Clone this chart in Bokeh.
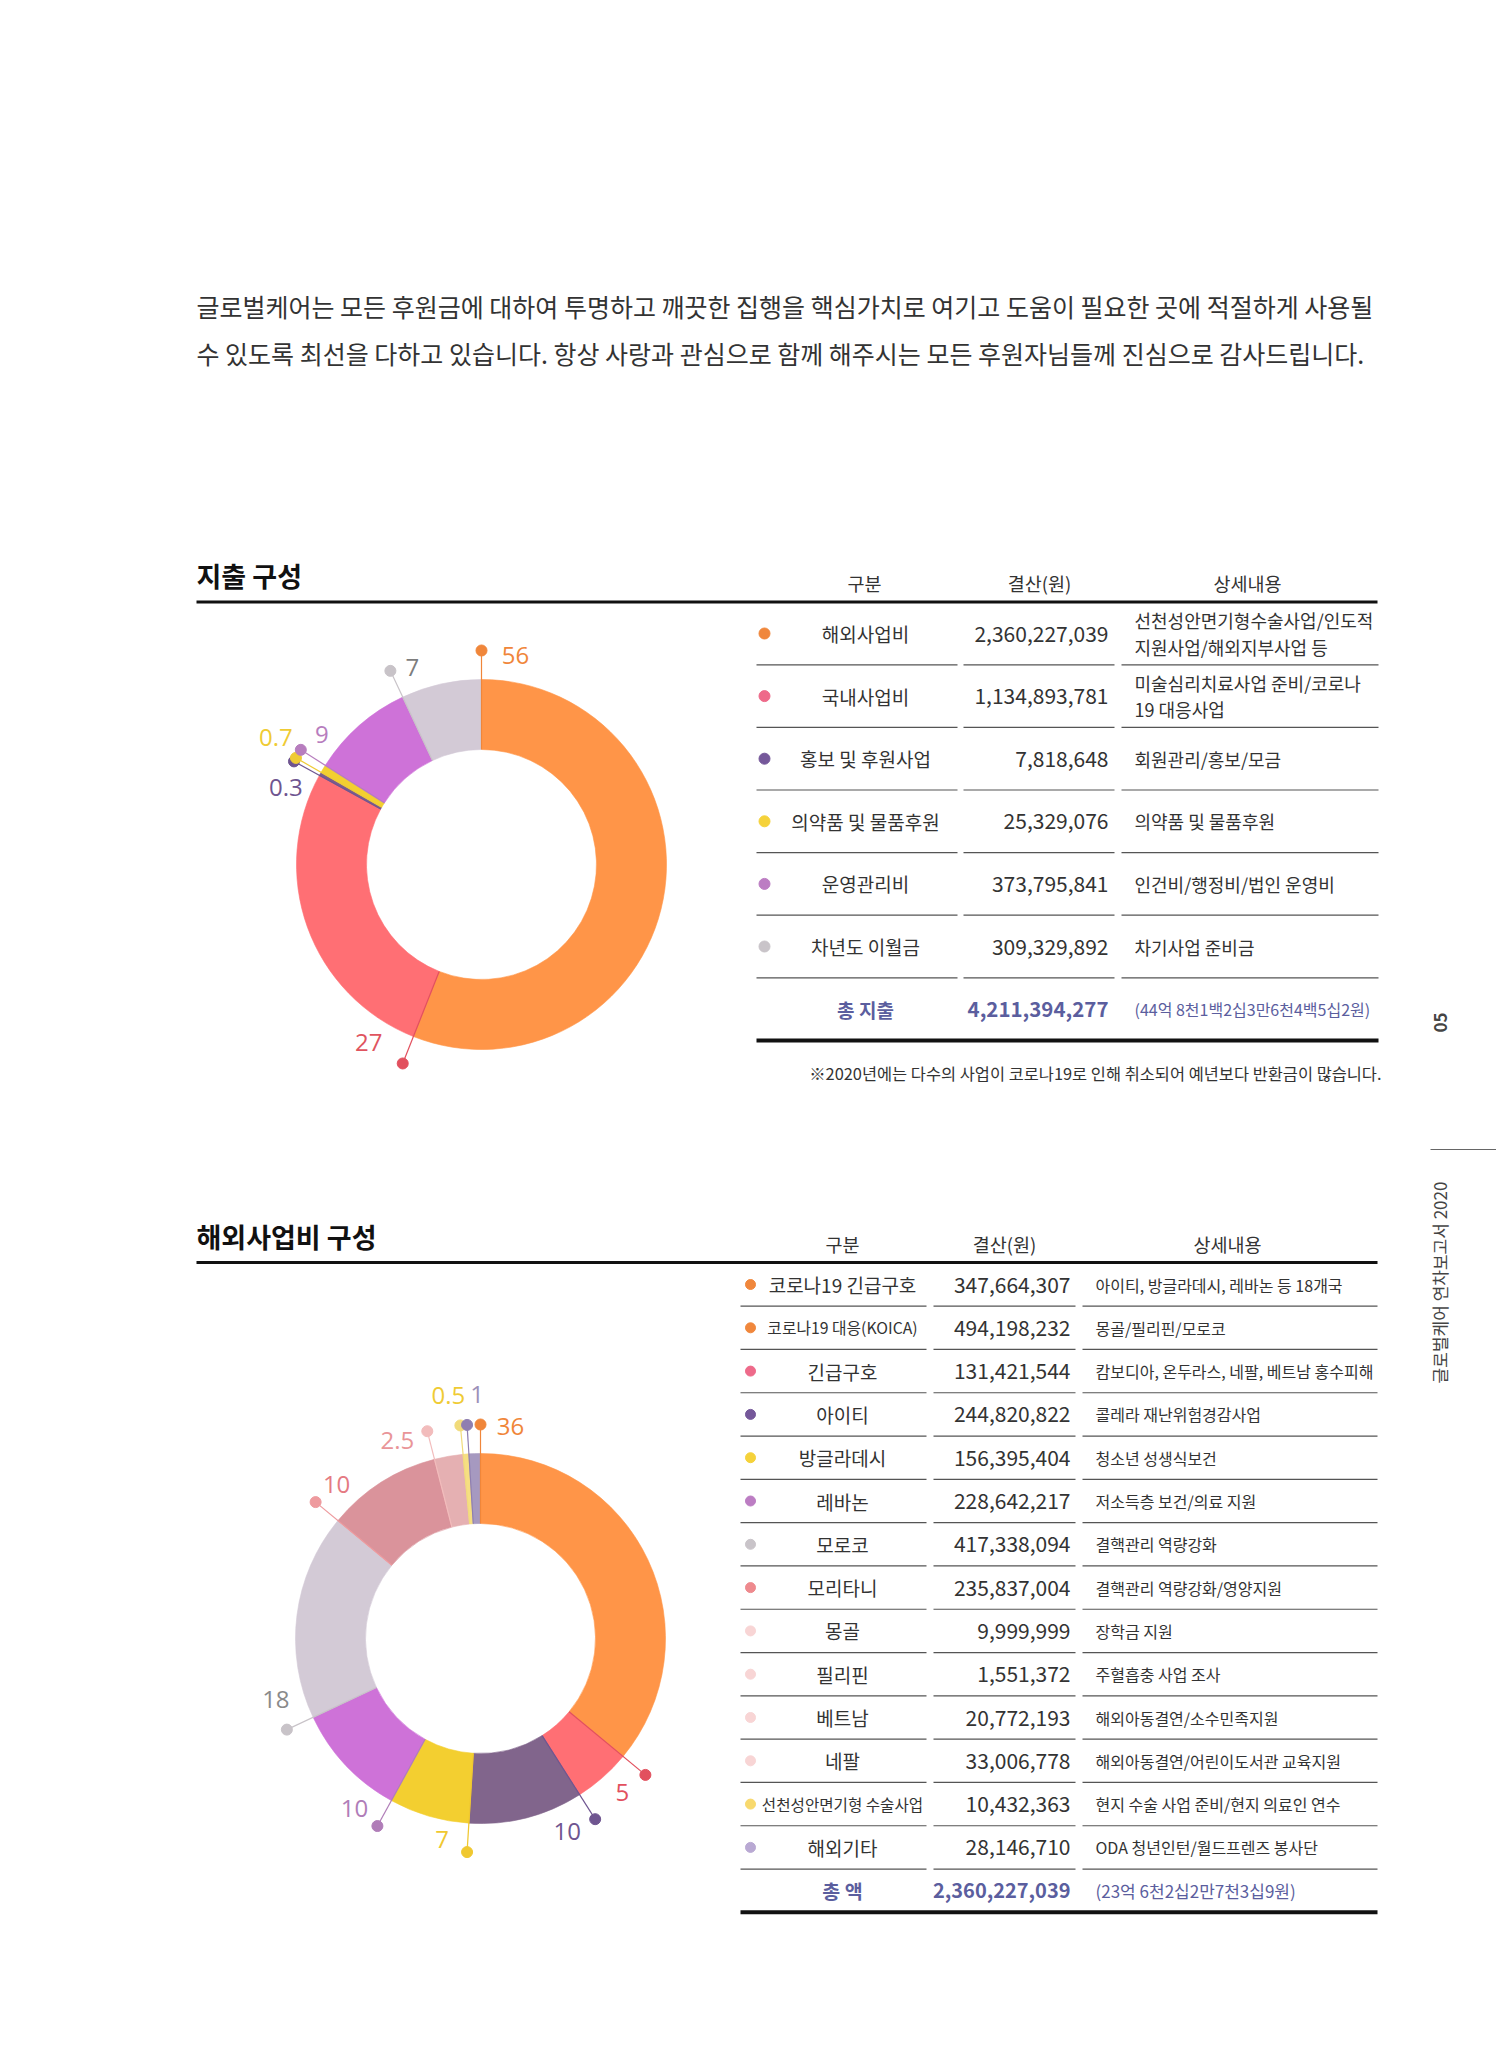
import math
from bokeh.plotting import figure
from bokeh.models import Range1d
from bokeh.embed import file_html
from bokeh.resources import INLINE
from bokeh.core.properties import value

W, H = 1496, 2047

# ---------------- data ----------------
intro_lines = [
    "글로벌케어는 모든 후원금에 대하여 투명하고 깨끗한 집행을 핵심가치로 여기고 도움이 필요한 곳에 적절하게 사용될",
    "수 있도록 최선을 다하고 있습니다. 항상 사랑과 관심으로 함께 해주시는 모든 후원자님들께 진심으로 감사드립니다.",
]
table_headers = ["구분", "결산(원)", "상세내용"]

exp_title = "지출 구성"
exp_categories = ["해외사업비", "국내사업비", "홍보 및 후원사업", "의약품 및 물품후원", "운영관리비", "차년도 이월금"]
exp_amounts = ["2,360,227,039", "1,134,893,781", "7,818,648", "25,329,076", "373,795,841", "309,329,892"]
exp_details = [
    "선천성안면기형수술사업/인도적\n지원사업/해외지부사업 등",
    "미술심리치료사업 준비/코로나\n19 대응사업",
    "회원관리/홍보/모금",
    "의약품 및 물품후원",
    "인건비/행정비/법인 운영비",
    "차기사업 준비금",
]
exp_total_label = "총 지출"
exp_total_amount = "4,211,394,277"
exp_total_korean = "(44억 8천1백2십3만6천4백5십2원)"
exp_note = "※2020년에는 다수의 사업이 코로나19로 인해 취소되어 예년보다 반환금이 많습니다."
exp_shares = [56, 27, 0.3, 0.7, 9, 7]
exp_share_labels = ["56", "27", "0.3", "0.7", "9", "7"]

ovs_title = "해외사업비 구성"
ovs_categories = ["코로나19 긴급구호", "코로나19 대응(KOICA)", "긴급구호", "아이티", "방글라데시", "레바논", "모로코",
                  "모리타니", "몽골", "필리핀", "베트남", "네팔", "선천성안면기형 수술사업", "해외기타"]
ovs_amounts = ["347,664,307", "494,198,232", "131,421,544", "244,820,822", "156,395,404", "228,642,217", "417,338,094",
               "235,837,004", "9,999,999", "1,551,372", "20,772,193", "33,006,778", "10,432,363", "28,146,710"]
ovs_details = ["아이티, 방글라데시, 레바논 등 18개국", "몽골/필리핀/모로코", "캄보디아, 온두라스, 네팔, 베트남 홍수피해",
               "콜레라 재난위험경감사업", "청소년 성생식보건", "저소득층 보건/의료 지원", "결핵관리 역량강화",
               "결핵관리 역량강화/영양지원", "장학금 지원", "주혈흡충 사업 조사", "해외아동결연/소수민족지원",
               "해외아동결연/어린이도서관 교육지원", "현지 수술 사업 준비/현지 의료인 연수", "ODA 청년인턴/월드프렌즈 봉사단"]
ovs_total_label = "총 액"
ovs_total_amount = "2,360,227,039"
ovs_total_korean = "(23억 6천2십2만7천3십9원)"
ovs_shares = [36, 5, 10, 7, 10, 18, 10, 2.5, 0.5, 1]
ovs_share_labels = ["36", "5", "10", "7", "10", "18", "10", "2.5", "0.5", "1"]

side_page = "05"
side_title = "글로벌케어 연차보고서 2020"

# ---------------- styles ----------------
KR = "Noto Sans CJK KR"
LBL = "Open Sans"
TXT = "#333333"
BLUE = "#5b5e9e"

exp_slice_colors = ["#ff9548", "#ff6f74", "#7c5c8c", "#f3cf30", "#ce72d8", "#d3cad6"]
exp_dot_colors = ["#f0863a", "#e2505e", "#6f5590", "#efcb34", "#b77dbe", "#c8c3c8"]
exp_label_colors = ["#f0863a", "#e0545f", "#6f5590", "#efcb34", "#b77dbe", "#7d7d7d"]
exp_label_offsets = [(34, 5), (-34, -21), (-8, 26), (-20, -20), (21, -15), (22, -3)]
exp_table_dots = ["#f0873c", "#ee6a8a", "#75589a", "#f5d23a", "#bc7dc3", "#c9c4c9"]

ovs_slice_colors = ["#ff9548", "#ff6f74", "#81658c", "#f3cf30", "#ce72d8", "#d3cad6",
                    "#da939b", "#e5b0b2", "#f6de82", "#a699c0"]
ovs_dot_colors = ["#f0863a", "#e2505e", "#6f5590", "#f0c830", "#b07db8", "#c8c3c8",
                  "#ee9a9e", "#f2bcbc", "#f1db7a", "#8f7fb0"]
ovs_label_colors = ["#f0863a", "#e2505e", "#6f5590", "#f0c830", "#b07db8", "#8a8a8a",
                    "#e57a82", "#e99598", "#efcb34", "#9c90b9"]
ovs_label_offsets = [(30, 2), (-23, 18), (-28, 12), (-25, -13), (-23, -18), (-11, -30),
                     (21, -18), (-30, 9), (-12, -30), (10, -30)]
ovs_table_dots = ["#f0873c", "#f0873c", "#ee6a8a", "#75589a", "#f5d23a", "#bc7dc3", "#c9c4c9",
                  "#ee8a8e", "#f8d5d5", "#f8d5d5", "#f8d5d5", "#f8d5d5", "#f8d96e", "#b9a9d3"]
ovs_cat_sizes = [19, 15.8, 19, 19, 19, 19, 19, 19, 19, 19, 19, 19, 15.6, 19]

R_IN, R_OUT, R_DOT = 115, 185, 214

p = figure(width=W, height=H, x_range=Range1d(0, W), y_range=Range1d(0, H),
           output_backend="svg", toolbar_location=None, x_axis_type=None, y_axis_type=None,
           min_border=0, min_border_left=0, min_border_right=0, min_border_top=0, min_border_bottom=0)
p.grid.visible = False
p.outline_line_color = None
p.background_fill_color = "white"
p.border_fill_color = "white"


def Y(v):
    return H - v


def txt(xs, ys, texts, size, color, align="left", bold=False, font=KR, angle=0.0):
    p.text(x=list(xs), y=[Y(v) for v in ys], text=list(texts),
           text_font=value(font), text_font_size=value(f"{size}px"),
           text_font_style="bold" if bold else "normal",
           text_color=color, text_align=align, text_baseline="middle", angle=angle)


def hline(x0, x1, y, color, width):
    p.segment(x0=[x0], y0=[Y(y)], x1=[x1], y1=[Y(y)], line_color=color, line_width=width)


def donut(cx, cy, shares, labels, slice_colors, dot_colors, label_colors, offsets):
    total = float(sum(shares))
    cum = 0.0
    a0s, a1s = [], []
    for s in shares:
        a0s.append(2 * math.pi * cum / total)
        cum += s
        a1s.append(2 * math.pi * cum / total)
    p.annular_wedge(x=cx, y=Y(cy), inner_radius=R_IN, outer_radius=R_OUT,
                    start_angle=[math.pi / 2 - a for a in a0s], end_angle=[math.pi / 2 - a for a in a1s],
                    direction="clock", fill_color=slice_colors, line_color=slice_colors, line_width=0.6)
    xi = [cx + R_IN * math.sin(a) for a in a0s]
    yi = [cy - R_IN * math.cos(a) for a in a0s]
    xd = [cx + R_DOT * math.sin(a) for a in a0s]
    yd = [cy - R_DOT * math.cos(a) for a in a0s]
    p.segment(x0=xi, y0=[Y(v) for v in yi], x1=xd, y1=[Y(v) for v in yd], line_color=dot_colors, line_width=1.2)
    p.scatter(x=xd, y=[Y(v) for v in yd], size=11, marker="circle", fill_color=dot_colors, line_color=dot_colors)
    lx = [x + o[0] for x, o in zip(xd, offsets)]
    ly = [y + o[1] for y, o in zip(yd, offsets)]
    txt(lx, ly, labels, 24, label_colors, align="center", font=LBL)


# ---------------- intro ----------------
txt([196, 196], [305, 352], intro_lines, 25, TXT)

# ---------------- section 1 ----------------
txt([196], [575], [exp_title], 27, "#111111", bold=True)
txt([864, 1039, 1247], [582] * 3, table_headers, 18.5, TXT, align="center")
hline(196, 1377, 601.5, "#111111", 3)

seg1 = [(756, 957), (963, 1114), (1121, 1378)]
step1 = 62.6
rows1 = [633 + step1 * i for i in range(len(exp_categories))]
p.scatter(x=[764] * len(rows1), y=[Y(v) for v in rows1], size=11, marker="circle",
          fill_color=exp_table_dots, line_color=exp_table_dots)
txt([865] * len(rows1), rows1, exp_categories, 19, TXT, align="center")
txt([1108] * len(rows1), rows1, exp_amounts, 21, TXT, align="right")
dx, dy, dt = [], [], []
for yv, d in zip(rows1, exp_details):
    parts = d.split("\n")
    if len(parts) == 1:
        dx.append(1134); dy.append(yv); dt.append(parts[0])
    else:
        for k, part in enumerate(parts):
            dx.append(1134); dy.append(yv - 13.3 + 26.6 * k); dt.append(part)
txt(dx, dy, dt, 18, TXT)
for yv in rows1:
    for a, b in seg1:
        hline(a, b, yv + step1 / 2, "#555555", 1.2)
ytot1 = 633 + step1 * len(exp_categories)
txt([865], [ytot1], [exp_total_label], 19, BLUE, align="center", bold=True)
txt([1108], [ytot1], [exp_total_amount], 20.5, BLUE, align="right", bold=True)
txt([1134], [ytot1], [exp_total_korean], 16, BLUE)
hline(756, 1378, ytot1 + step1 / 2, "#111111", 4)
txt([1381], [1072], [exp_note], 16.4, TXT, align="right")

donut(481, 864, exp_shares, exp_share_labels, exp_slice_colors, exp_dot_colors, exp_label_colors, exp_label_offsets)

# ---------------- section 2 ----------------
txt([196], [1236], [ovs_title], 27, "#111111", bold=True)
txt([842, 1004, 1227], [1243] * 3, table_headers, 18.5, TXT, align="center")
hline(196, 1377, 1262, "#111111", 3)

seg2 = [(740, 926), (933, 1075), (1082, 1377)]
step2 = 43.3
rows2 = [1284 + step2 * i for i in range(len(ovs_categories))]
p.scatter(x=[750] * len(rows2), y=[Y(v) for v in rows2], size=10, marker="circle",
          fill_color=ovs_table_dots, line_color=ovs_table_dots)
for yv, c, s in zip(rows2, ovs_categories, ovs_cat_sizes):
    txt([842], [yv], [c], s, TXT, align="center")
txt([1070] * len(rows2), rows2, ovs_amounts, 21, TXT, align="right")
txt([1095] * len(rows2), rows2, ovs_details, 16, TXT)
for yv in rows2:
    for a, b in seg2:
        hline(a, b, yv + step2 / 2, "#555555", 1.2)
ytot2 = 1284 + step2 * len(ovs_categories)
txt([842], [ytot2], [ovs_total_label], 19.5, BLUE, align="center", bold=True)
txt([1070], [ytot2], [ovs_total_amount], 20, BLUE, align="right", bold=True)
txt([1095], [ytot2], [ovs_total_korean], 17, BLUE)
hline(740, 1377, ytot2 + step2 / 2, "#111111", 4)

donut(480, 1638, ovs_shares, ovs_share_labels, ovs_slice_colors, ovs_dot_colors, ovs_label_colors, ovs_label_offsets)

# ---------------- side ----------------
txt([1440], [1022], [side_page], 17, "#444444", align="center", bold=True, angle=math.pi / 2)
hline(1430, 1496, 1149, "#666666", 1)
txt([1439], [1282], [side_title], 17, "#444444", align="center", angle=math.pi / 2)

with open("out.html", "w", encoding="utf-8") as f:
    f.write(file_html(p, INLINE, "글로벌케어 연차보고서 2020"))
